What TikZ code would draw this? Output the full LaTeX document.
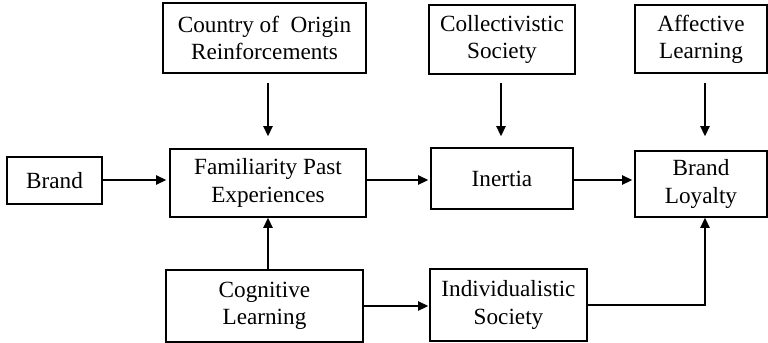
\documentclass[tikz,border=0pt]{standalone}
\usepackage{fontspec}
\setmainfont{Liberation Serif}
\usepackage{tikz}
\usetikzlibrary{arrows.meta,positioning}

\begin{document}
\begin{tikzpicture}[
  x=0.5pt, y=-0.5pt,
  box/.style={rectangle, draw=black, line width=0.8pt, inner sep=0pt, align=center,
    font=\fontsize{11.6}{13.6}\selectfont},
  link/.style={-{Triangle[length=5pt,width=4.6pt]}, line width=0.9pt}
]
  \useasboundingbox (0,0) rectangle (768,343);
  % Top row: reinforcing factors
  \node[box, minimum width=101.5pt, minimum height=35pt] (origin)  at (264.5, 38) {Country of~ Origin\\Reinforcements};
  \node[box, minimum width=73pt,    minimum height=34.5pt] (collect) at (502, 39.5) {Collectivistic\\Society};
  \node[box, minimum width=66pt,    minimum height=34pt] (affect)  at (701, 39) {Affective\\Learning};
  % Middle row: main chain
  \node[box, minimum width=47.5pt,  minimum height=23.5pt] (brand)   at (54.5, 180.5) {Brand};
  \node[box, minimum width=98pt,    minimum height=34pt] (familiar) at (268, 183) {Familiarity Past\\Experiences};
  \node[box, minimum width=71pt,    minimum height=30.5pt] (inertia) at (502, 178.5) {Inertia};
  \node[box, minimum width=66pt,    minimum height=33pt] (loyalty) at (701, 184) {Brand\\Loyalty};
  % Bottom row
  \node[box, minimum width=98.5pt,  minimum height=36pt] (cognit)  at (264.5, 306) {Cognitive\\Learning};
  \node[box, minimum width=78.5pt,  minimum height=36pt] (indiv)   at (508.5, 305) {Individualistic\\Society};
  % Horizontal links
  \draw[link, shorten >=1.5pt] ([yshift=0.25pt]brand.east) -- ([yshift=0.25pt]brand.east -| familiar.west);
  \draw[link, shorten >=1pt] ([yshift=1.5pt]familiar.east) -- ([yshift=1.5pt]familiar.east -| inertia.west);
  \draw[link, shorten >=1pt] ([yshift=-0.75pt]inertia.east) -- ([yshift=-0.75pt]inertia.east -| loyalty.west);
  \draw[link, shorten >=0.5pt] (cognit.east) -- (cognit.east -| indiv.west);
  % Vertical links from the top row
  \draw[link, shorten <=4.5pt, shorten >=6pt] (origin.south -| familiar.north) -- (familiar.north);
  \draw[link, shorten <=4pt, shorten >=5.5pt] ([xshift=-0.5pt]collect.south) -- ([xshift=-0.5pt]collect.south |- inertia.north);
  \draw[link, shorten <=4.5pt, shorten >=7pt] ([xshift=2pt]affect.south) -- ([xshift=2pt]affect.south |- loyalty.north);
  % Links from the bottom row
  \draw[link] (cognit.north -| familiar.south) -- (familiar.south);
  \draw[link] (indiv.east) -| ([xshift=2pt]loyalty.south);
\end{tikzpicture}
\end{document}
